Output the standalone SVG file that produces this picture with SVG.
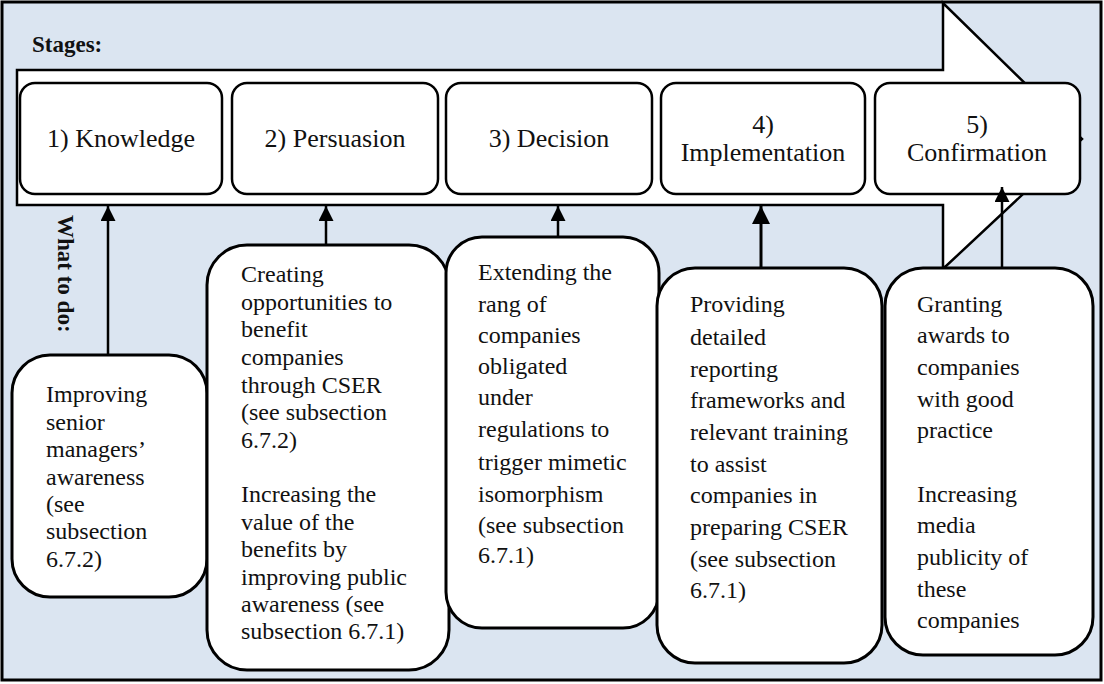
<svg xmlns="http://www.w3.org/2000/svg" width="1104" height="684" viewBox="0 0 1104 684">
<defs>
<style>
.stage{fill:#fff;stroke:#000;stroke-width:2.5}
.act{fill:#fff;stroke:#000;stroke-width:3}
.st{font-size:26px;fill:#111;text-anchor:middle}
.tx{font-size:24px;fill:#111}
.hd{font-size:23px;font-weight:bold;fill:#111}
.con{stroke:#000;stroke-width:2.5;fill:none}
</style>
<marker id="ah" viewBox="0 0 10 10" refX="10" refY="5" markerWidth="6" markerHeight="6" markerUnits="strokeWidth" orient="auto">
<path d="M0,0 L10,5 L0,10 z" fill="#000"/>
</marker>
</defs>
<rect x="2" y="2" width="1099" height="678" fill="#dbe5f1" stroke="#000" stroke-width="3"/>
<g id="big-arrow">
<path d="M17,70 L943,70 L943,3 L1082,139 L945,267 L943,267 L943,205 L17,205 Z" fill="#fff" stroke="#000" stroke-width="2.5" stroke-linejoin="miter"/>
</g>
<g font-family="'Liberation Serif', 'DejaVu Serif', serif">
<g id="labels">
<text class="hd" x="32" y="52">Stages:</text>
<text class="hd" transform="translate(58,215) rotate(90)">What to do:</text>
</g>
<g id="stage1"><rect class="stage" x="20" y="83" width="202" height="111" rx="15"/><text class="st" x="121" y="147">1) Knowledge</text></g>
<g id="stage2"><rect class="stage" x="232" y="83" width="206" height="111" rx="15"/><text class="st" x="335" y="147">2) Persuasion</text></g>
<g id="stage3"><rect class="stage" x="446" y="83" width="206" height="111" rx="15"/><text class="st" x="549" y="147">3) Decision</text></g>
<g id="stage4"><rect class="stage" x="661" y="83" width="204" height="111" rx="15"/><text class="st" x="763" y="133">4)</text><text class="st" x="763" y="161">Implementation</text></g>
<g id="stage5"><rect class="stage" x="875" y="83" width="205" height="111" rx="15"/><text class="st" x="977" y="133">5)</text><text class="st" x="977" y="161">Confirmation</text></g>
<g id="connectors">
<line class="con" x1="108" y1="355" x2="108" y2="206" marker-end="url(#ah)"/>
<line class="con" x1="326" y1="245" x2="326" y2="206" marker-end="url(#ah)"/>
<line class="con" x1="558" y1="237" x2="558" y2="206" marker-end="url(#ah)"/>
<line class="con" x1="761" y1="268" x2="761" y2="206" marker-end="url(#ah)" style="stroke-width:3"/>
<line class="con" x1="1002" y1="268" x2="1002" y2="187" marker-end="url(#ah)"/>
</g>
<g id="action1"><rect class="act" x="12" y="355" width="195" height="242" rx="38"/>
<text class="tx"><tspan x="46" y="402">Improving</tspan><tspan x="46" y="430">senior</tspan><tspan x="46" y="457">managers’</tspan><tspan x="46" y="485">awareness</tspan><tspan x="46" y="512">(see</tspan><tspan x="46" y="539">subsection</tspan><tspan x="46" y="567">6.7.2)</tspan></text></g>
<g id="action2"><rect class="act" x="207" y="245" width="242" height="425" rx="40"/>
<text class="tx"><tspan x="241" y="282">Creating</tspan><tspan x="241" y="310">opportunities to</tspan><tspan x="241" y="337">benefit</tspan><tspan x="241" y="365">companies</tspan><tspan x="241" y="393">through CSER</tspan><tspan x="241" y="420">(see subsection</tspan><tspan x="241" y="448">6.7.2)</tspan><tspan x="241" y="502">Increasing the</tspan><tspan x="241" y="530">value of the</tspan><tspan x="241" y="557">benefits by</tspan><tspan x="241" y="585">improving public</tspan><tspan x="241" y="612">awareness (see</tspan><tspan x="241" y="639">subsection 6.7.1)</tspan></text></g>
<g id="action3"><rect class="act" x="446" y="237" width="213" height="391" rx="36"/>
<text class="tx"><tspan x="478" y="280">Extending the</tspan><tspan x="478" y="312">rang of</tspan><tspan x="478" y="343">companies</tspan><tspan x="478" y="374">obligated</tspan><tspan x="478" y="405">under</tspan><tspan x="478" y="437">regulations to</tspan><tspan x="478" y="470">trigger mimetic</tspan><tspan x="478" y="502">isomorphism</tspan><tspan x="478" y="533">(see subsection</tspan><tspan x="478" y="563">6.7.1)</tspan></text></g>
<g id="action4"><rect class="act" x="657" y="268" width="225" height="395" rx="38"/>
<text class="tx"><tspan x="690" y="312">Providing</tspan><tspan x="690" y="345">detailed</tspan><tspan x="690" y="377">reporting</tspan><tspan x="690" y="408">frameworks and</tspan><tspan x="690" y="440">relevant training</tspan><tspan x="690" y="472">to assist</tspan><tspan x="690" y="503">companies in</tspan><tspan x="690" y="535">preparing CSER</tspan><tspan x="690" y="567">(see subsection</tspan><tspan x="690" y="598">6.7.1)</tspan></text></g>
<g id="action5"><rect class="act" x="885" y="268" width="208" height="387" rx="38"/>
<text class="tx"><tspan x="917" y="312">Granting</tspan><tspan x="917" y="343">awards to</tspan><tspan x="917" y="375">companies</tspan><tspan x="917" y="407">with good</tspan><tspan x="917" y="438">practice</tspan><tspan x="917" y="502">Increasing</tspan><tspan x="917" y="533">media</tspan><tspan x="917" y="565">publicity of</tspan><tspan x="917" y="597">these</tspan><tspan x="917" y="628">companies</tspan></text></g>
</g>
</svg>
